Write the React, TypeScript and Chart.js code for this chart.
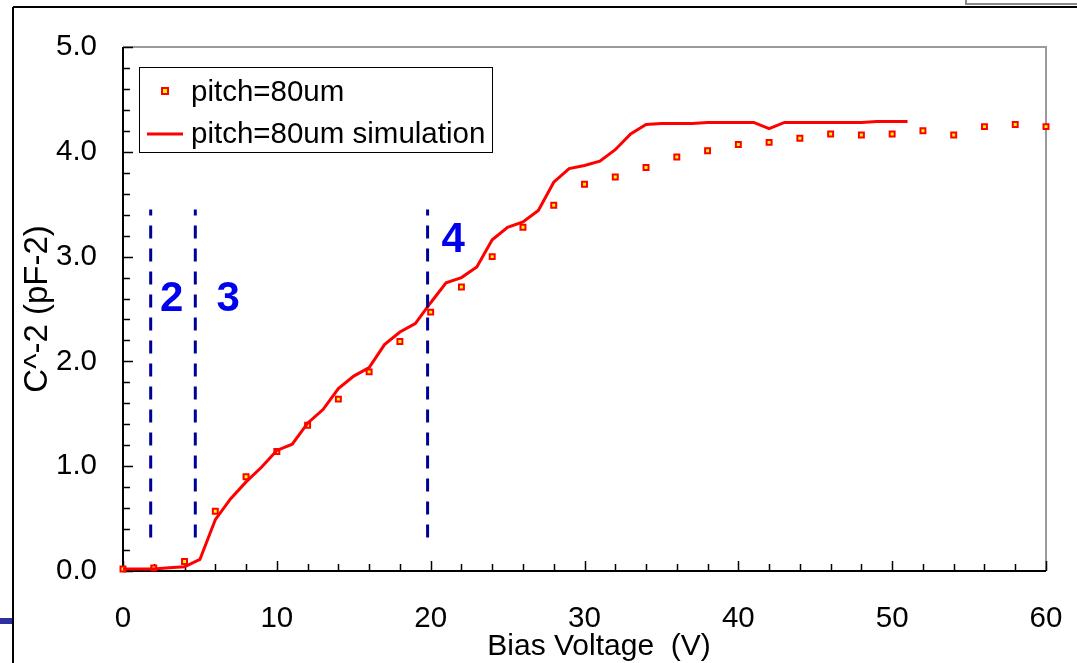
import React, { useEffect, useRef } from "react";
import { Chart, registerables } from "chart.js";

Chart.register(...registerables);

// ---- data ----
const measuredVoltage = [0, 2, 4, 6, 8, 10, 12, 14, 16, 18, 20, 22, 24, 26, 28, 30, 32, 34, 36, 38, 40, 42, 44, 46, 48, 50, 52, 54, 56, 58, 60];
const measuredC2 = [0.02, 0.03, 0.09, 0.57, 0.9, 1.14, 1.39, 1.64, 1.9, 2.19, 2.47, 2.71, 3.0, 3.28, 3.49, 3.69, 3.76, 3.85, 3.95, 4.01, 4.07, 4.09, 4.13, 4.17, 4.16, 4.17, 4.2, 4.16, 4.24, 4.26, 4.24];

const simVoltage = [0, 1, 2, 3, 4, 5, 6, 7, 8, 9, 10, 11, 12, 13, 14, 15, 16, 17, 18, 19, 20, 21, 22, 23, 24, 25, 26, 27, 28, 29, 30, 31, 32, 33, 34, 35, 36, 37, 38, 39, 40, 41, 42, 43, 44, 45, 46, 47, 48, 49, 50, 51];
const simC2 = [0.02, 0.02, 0.02, 0.03, 0.04, 0.11, 0.49, 0.69, 0.85, 0.99, 1.15, 1.21, 1.41, 1.54, 1.74, 1.86, 1.94, 2.16, 2.28, 2.36, 2.56, 2.75, 2.8, 2.9, 3.16, 3.28, 3.33, 3.44, 3.71, 3.84, 3.87, 3.91, 4.02, 4.17, 4.26, 4.27, 4.27, 4.27, 4.28, 4.28, 4.28, 4.28, 4.22, 4.28, 4.28, 4.28, 4.28, 4.28, 4.28, 4.29, 4.29, 4.29];

const boundaryVoltages = [1.8, 4.7, 19.8];
const boundaryRange = [0.32, 3.45];

const regionLabels = ["2", "3", "4"];
const regionLabelX = [3.17, 6.83, 21.47];
const regionLabelY = [2.59, 2.59, 3.15];

const legendLabels = ["pitch=80um", "pitch=80um simulation"];
const xTitle = "Bias Voltage  (V)";
const yTitle = "C^-2 (pF-2)";

const FONT = "'Liberation Sans', Arial, Helvetica, sans-serif";

const decorPlugin = {
  id: "decor",
  beforeDraw(chart: any) {
    const { ctx, width, height } = chart;
    ctx.save();
    ctx.fillStyle = "#ffffff";
    ctx.fillRect(0, 0, width, height);
    // slide frame
    ctx.strokeStyle = "#000000";
    ctx.lineWidth = 2;
    ctx.beginPath();
    ctx.moveTo(13, 7);
    ctx.lineTo(width, 7);
    ctx.moveTo(13, 7);
    ctx.lineTo(13, height);
    ctx.stroke();
    // top-right box
    ctx.strokeStyle = "#8a8a8a";
    ctx.lineWidth = 2;
    ctx.strokeRect(966, -4, 120, 8);
    // blue bar at left
    ctx.fillStyle = "#2f2f9f";
    ctx.fillRect(0, 618, 12, 6);
    ctx.restore();
  },
  beforeDatasetsDraw(chart: any) {
    const { ctx, chartArea, scales } = chart;
    const { left, right, top, bottom } = chartArea;
    const xs = scales.x;
    const ys = scales.y;
    ctx.save();
    // gray top/right border
    ctx.strokeStyle = "#9a9a9a";
    ctx.lineWidth = 2;
    ctx.beginPath();
    ctx.moveTo(left, top);
    ctx.lineTo(right, top);
    ctx.lineTo(right, bottom);
    ctx.stroke();
    // black left/bottom axes
    ctx.strokeStyle = "#000000";
    ctx.lineWidth = 2;
    ctx.beginPath();
    ctx.moveTo(left, top);
    ctx.lineTo(left, bottom);
    ctx.lineTo(right, bottom);
    ctx.stroke();
    // inward ticks
    ctx.lineWidth = 1.5;
    ctx.beginPath();
    for (let v = 0; v <= 60; v += 2) {
      const px = Math.round(xs.getPixelForValue(v)) + 0.5;
      const len = v % 10 === 0 ? 10 : 7;
      ctx.moveTo(px, bottom);
      ctx.lineTo(px, bottom - len);
    }
    for (let i = 0; i <= 25; i++) {
      const v = i * 0.2;
      const py = Math.round(ys.getPixelForValue(v)) + 0.5;
      const len = i % 5 === 0 ? 10 : 7;
      ctx.moveTo(left, py);
      ctx.lineTo(left + len, py);
    }
    ctx.stroke();
    ctx.restore();
  },
  afterDatasetsDraw(chart: any) {
    const { ctx, scales } = chart;
    const xs = scales.x;
    const ys = scales.y;
    ctx.save();
    // region labels
    ctx.fillStyle = "#0000ee";
    ctx.font = `bold 42px ${FONT}`;
    ctx.textAlign = "center";
    ctx.textBaseline = "middle";
    regionLabels.forEach((t, i) => {
      ctx.fillText(t, xs.getPixelForValue(regionLabelX[i]), ys.getPixelForValue(regionLabelY[i]));
    });
    // legend
    const bx = 139, by = 67, bw = 353, bh = 85;
    ctx.fillStyle = "#ffffff";
    ctx.fillRect(bx, by, bw, bh);
    ctx.strokeStyle = "#000000";
    ctx.lineWidth = 1;
    ctx.strokeRect(bx + 0.5, by + 0.5, bw, bh);
    // marker
    ctx.fillStyle = "#ffff00";
    ctx.strokeStyle = "#ff0000";
    ctx.lineWidth = 2;
    ctx.fillRect(162, 88, 6, 6);
    ctx.strokeRect(162, 88, 6, 6);
    // line
    ctx.strokeStyle = "#ff0000";
    ctx.lineWidth = 3;
    ctx.beginPath();
    ctx.moveTo(147, 134);
    ctx.lineTo(183, 134);
    ctx.stroke();
    ctx.fillStyle = "#000000";
    ctx.font = `29.5px ${FONT}`;
    ctx.textAlign = "left";
    ctx.textBaseline = "middle";
    ctx.fillText(legendLabels[0], 191, 93);
    ctx.fillText(legendLabels[1], 191, 135);
    // x-axis title
    ctx.font = `30px ${FONT}`;
    ctx.textAlign = "center";
    ctx.fillText(xTitle, 599, 647);
    ctx.restore();
  },
};

export default function App() {
  const canvasRef = useRef<HTMLCanvasElement | null>(null);

  useEffect(() => {
    const canvas = canvasRef.current;
    if (!canvas) return;

    const measured = measuredVoltage.map((x, i) => ({ x, y: measuredC2[i] }));
    const sim = simVoltage.map((x, i) => ({ x, y: simC2[i] }));
    const boundaries = boundaryVoltages.map((v) => ({
      type: "line" as const,
      data: [
        { x: v, y: boundaryRange[0] },
        { x: v, y: boundaryRange[1] },
      ],
      borderColor: "#000099",
      borderWidth: 3,
      borderDash: [13, 10],
      pointRadius: 0,
      showLine: true,
      fill: false,
      clip: false as any,
    }));

    const chart = new Chart(canvas, {
      type: "scatter",
      data: {
        datasets: [
          ...boundaries,
          {
            type: "line" as const,
            label: legendLabels[1],
            data: sim,
            borderColor: "#ff0000",
            borderWidth: 3,
            pointRadius: 0,
            showLine: true,
            tension: 0,
            fill: false,
            clip: false as any,
          },
          {
            type: "scatter" as const,
            label: legendLabels[0],
            data: measured,
            pointStyle: "rect",
            pointRadius: 3.5,
            pointBorderWidth: 2,
            pointBackgroundColor: "#ffff00",
            pointBorderColor: "#ff0000",
            showLine: false,
            clip: false as any,
          },
        ] as any,
      },
      options: {
        responsive: false,
        animation: false,
        devicePixelRatio: 1,
        layout: { padding: { top: 47, right: 31, left: 0, bottom: 0 } },
        plugins: {
          legend: { display: false },
          tooltip: { enabled: false },
        },
        scales: {
          x: {
            type: "linear",
            position: "bottom",
            min: 0,
            max: 60,
            afterFit: (s: any) => {
              s.height = 92;
              s.paddingLeft = 0;
              s.paddingRight = 0;
            },
            grid: { display: false, drawTicks: false },
            border: { display: false },
            ticks: {
              stepSize: 10,
              padding: 30,
              color: "#000000",
              maxRotation: 0,
              autoSkip: false,
              font: { family: FONT, size: 29.5 },
            },
            title: { display: false, text: xTitle },
          },
          y: {
            type: "linear",
            min: 0,
            max: 5,
            afterFit: (s: any) => {
              s.width = 123;
              s.paddingTop = 0;
              s.paddingBottom = 0;
            },
            grid: { display: false, drawTicks: false },
            border: { display: false },
            ticks: {
              stepSize: 1,
              padding: 26,
              color: "#000000",
              font: { family: FONT, size: 29.5 },
              callback: (v: any) => Number(v).toFixed(1),
            },
            title: {
              display: true,
              text: yTitle,
              color: "#000000",
              font: { family: FONT, size: 33 },
              padding: { top: 18, bottom: 0 },
            },
          },
        },
      } as any,
      plugins: [decorPlugin],
    });

    return () => chart.destroy();
  }, []);

  return (
    <div style={{ position: "fixed", left: 0, top: 0, width: 1077, height: 663, background: "#ffffff" }}>
      <canvas ref={canvasRef} width={1077} height={663} style={{ display: "block" }} />
    </div>
  );
}
